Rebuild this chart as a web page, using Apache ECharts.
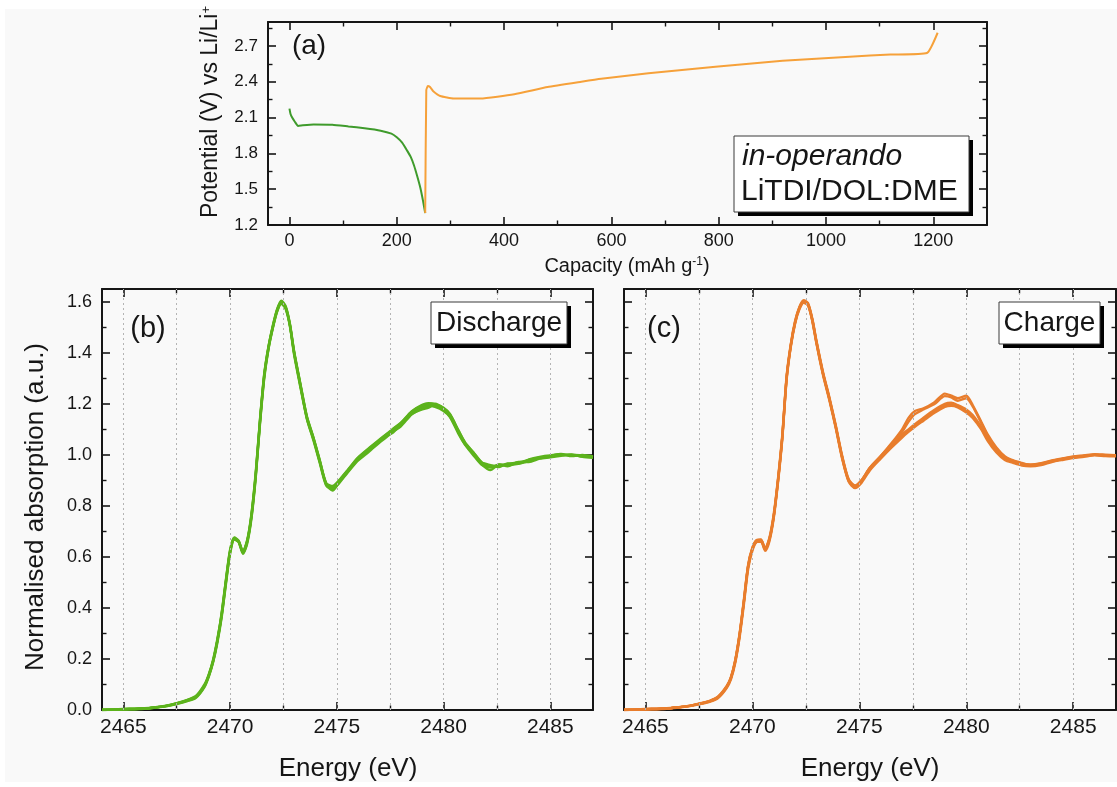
<!DOCTYPE html>
<html>
<head>
<meta charset="utf-8">
<script src="https://cdn.jsdelivr.net/npm/echarts@6/dist/echarts.min.js"></script>
<style>
  html, body { margin: 0; padding: 0; background: #ffffff; }
  #chart { width: 1117px; height: 787px; }
</style>
</head>
<body>
<div id="chart"></div>
<script>
// ---------- (a) galvanostatic discharge / charge profile ----------
const dischargeCapacity = [0, 2, 5, 10, 16, 25, 45, 80, 110, 140, 170, 190, 200, 210, 219, 226, 232, 238, 244, 249, 253];
const dischargeVoltage  = [2.175, 2.13, 2.10, 2.065, 2.03, 2.035, 2.042, 2.04, 2.025, 2.01, 1.99, 1.965, 1.935, 1.89, 1.825, 1.77, 1.70, 1.61, 1.51, 1.40, 1.30];
const chargeCapacity = [253, 255, 258, 262, 268, 281, 306, 356, 419, 481, 544, 581, 669, 794, 919, 1044, 1120, 1188, 1208];
const chargeVoltage  = [1.30, 2.33, 2.365, 2.355, 2.32, 2.28, 2.26, 2.26, 2.295, 2.355, 2.40, 2.425, 2.47, 2.525, 2.575, 2.61, 2.627, 2.64, 2.81];

const capacityLabels = [0, 200, 400, 600, 800, 1000, 1200];
const capacityMinor  = [100, 300, 500, 700, 900, 1100];
const voltageLabels  = [1.2, 1.5, 1.8, 2.1, 2.4, 2.7];
const voltageMinor   = [1.35, 1.65, 1.95, 2.25, 2.55, 2.85];

// ---------- (b), (c) S K-edge XANES scans ----------
const energy = [
  2464, 2465, 2466, 2466.5, 2467, 2467.5, 2468, 2468.4, 2468.8, 2469.0,
  2469.2, 2469.4, 2469.6, 2469.8, 2470.0, 2470.2, 2470.4, 2470.6, 2470.8, 2471.0,
  2471.2, 2471.4, 2471.6, 2471.8, 2472.0, 2472.2, 2472.4, 2472.6, 2472.8, 2473.0,
  2473.3, 2473.6, 2473.9, 2474.2, 2474.5, 2474.8,
  2475.1, 2475.5, 2476.0, 2476.5, 2477.0, 2477.3, 2477.6, 2478.0, 2478.5, 2479.0,
  2479.3, 2479.6, 2480.0, 2480.3, 2480.7, 2481.0, 2481.4, 2481.8, 2482.2, 2482.6,
  2483.0, 2483.5, 2484.0, 2484.5, 2485.0, 2485.5, 2486.0, 2486.5, 2487.0
];

const dischargeScan1 = [
  0.000, 0.003, 0.006, 0.010, 0.016, 0.026, 0.038, 0.052, 0.095, 0.135,
  0.190, 0.270, 0.370, 0.500, 0.620, 0.672, 0.660, 0.618, 0.660, 0.760,
  0.920, 1.130, 1.310, 1.420, 1.500, 1.565, 1.598, 1.578, 1.510, 1.400,
  1.270, 1.145, 1.065, 0.975, 0.885, 0.872,
  0.895, 0.935, 0.985, 1.020, 1.055, 1.075, 1.095, 1.120, 1.165, 1.190,
  1.197, 1.195, 1.180, 1.155, 1.090, 1.045, 1.005, 0.965, 0.955, 0.958,
  0.962, 0.968, 0.978, 0.988, 0.995, 1.000, 0.998, 0.996, 0.990
];
const dischargeScan2 = [
  0.000, 0.002, 0.005, 0.009, 0.014, 0.023, 0.035, 0.048, 0.090, 0.130,
  0.185, 0.262, 0.360, 0.490, 0.612, 0.668, 0.658, 0.612, 0.652, 0.750,
  0.910, 1.120, 1.300, 1.415, 1.495, 1.560, 1.592, 1.572, 1.505, 1.392,
  1.262, 1.140, 1.058, 0.968, 0.880, 0.865,
  0.888, 0.930, 0.978, 1.012, 1.048, 1.068, 1.090, 1.112, 1.158, 1.182,
  1.192, 1.188, 1.172, 1.148, 1.082, 1.040, 0.998, 0.960, 0.950, 0.962,
  0.955, 0.972, 0.972, 0.985, 0.990, 0.996, 1.002, 0.992, 0.988
];
const dischargeScan3 = [
  0.001, 0.004, 0.007, 0.011, 0.017, 0.027, 0.040, 0.055, 0.100, 0.140,
  0.196, 0.276, 0.378, 0.508, 0.628, 0.676, 0.664, 0.622, 0.666, 0.768,
  0.930, 1.138, 1.318, 1.426, 1.506, 1.570, 1.604, 1.584, 1.515, 1.406,
  1.276, 1.150, 1.070, 0.980, 0.890, 0.878,
  0.900, 0.940, 0.990, 1.026, 1.060, 1.080, 1.100, 1.126, 1.170, 1.196,
  1.202, 1.198, 1.185, 1.160, 1.096, 1.050, 1.010, 0.970, 0.960, 0.952,
  0.966, 0.965, 0.982, 0.992, 0.998, 1.004, 0.995, 1.000, 0.994
];
const dischargeScan4 = [
  0.000, 0.003, 0.006, 0.010, 0.015, 0.025, 0.037, 0.050, 0.093, 0.133,
  0.188, 0.268, 0.366, 0.496, 0.618, 0.670, 0.660, 0.616, 0.658, 0.756,
  0.916, 1.126, 1.306, 1.418, 1.498, 1.562, 1.596, 1.576, 1.508, 1.398,
  1.268, 1.142, 1.062, 0.972, 0.884, 0.860,
  0.892, 0.932, 0.982, 1.018, 1.052, 1.072, 1.085, 1.118, 1.160, 1.178,
  1.185, 1.198, 1.176, 1.150, 1.088, 1.042, 1.002, 0.962, 0.940, 0.962,
  0.960, 0.965, 0.975, 0.986, 0.993, 0.998, 1.000, 0.994, 0.992
];
const dischargeScan5 = [
  0.000, 0.003, 0.006, 0.010, 0.016, 0.026, 0.039, 0.053, 0.097, 0.137,
  0.192, 0.272, 0.374, 0.504, 0.624, 0.674, 0.662, 0.620, 0.662, 0.764,
  0.924, 1.134, 1.314, 1.424, 1.503, 1.568, 1.600, 1.580, 1.512, 1.403,
  1.273, 1.148, 1.068, 0.978, 0.888, 0.875,
  0.898, 0.938, 0.988, 1.024, 1.058, 1.078, 1.098, 1.124, 1.168, 1.194,
  1.200, 1.200, 1.183, 1.158, 1.094, 1.048, 1.008, 0.968, 0.958, 0.956,
  0.964, 0.970, 0.980, 0.990, 0.997, 1.002, 1.000, 0.998, 0.992
];

const chargeScan1 = [
  0.000, 0.003, 0.006, 0.010, 0.015, 0.024, 0.034, 0.050, 0.090, 0.125,
  0.190, 0.290, 0.420, 0.560, 0.630, 0.662, 0.665, 0.630, 0.670, 0.760,
  0.900, 1.070, 1.300, 1.430, 1.520, 1.575, 1.600, 1.590, 1.530, 1.440,
  1.320, 1.220, 1.110, 0.990, 0.900, 0.875,
  0.895, 0.945, 0.990, 1.035, 1.075, 1.095, 1.115, 1.140, 1.170, 1.195,
  1.198, 1.190, 1.172, 1.150, 1.105, 1.060, 1.015, 0.985, 0.972, 0.962,
  0.958, 0.963, 0.975, 0.983, 0.990, 0.995, 1.000, 0.998, 0.996
];
const chargeScan2 = [
  0.000, 0.002, 0.005, 0.009, 0.014, 0.022, 0.032, 0.047, 0.086, 0.120,
  0.184, 0.282, 0.410, 0.550, 0.624, 0.658, 0.660, 0.624, 0.662, 0.752,
  0.892, 1.062, 1.292, 1.424, 1.515, 1.570, 1.596, 1.586, 1.525, 1.434,
  1.314, 1.214, 1.104, 0.984, 0.895, 0.870,
  0.890, 0.940, 0.985, 1.028, 1.068, 1.090, 1.110, 1.134, 1.164, 1.188,
  1.192, 1.186, 1.166, 1.145, 1.100, 1.055, 1.010, 0.980, 0.968, 0.958,
  0.955, 0.960, 0.972, 0.980, 0.987, 0.992, 0.998, 0.995, 0.994
];
const chargeScan3 = [
  0.001, 0.004, 0.007, 0.011, 0.016, 0.025, 0.036, 0.053, 0.094, 0.130,
  0.196, 0.298, 0.430, 0.568, 0.636, 0.666, 0.668, 0.634, 0.676, 0.768,
  0.908, 1.078, 1.308, 1.436, 1.525, 1.580, 1.606, 1.595, 1.535, 1.446,
  1.326, 1.226, 1.116, 0.996, 0.905, 0.880,
  0.900, 0.950, 0.995, 1.040, 1.080, 1.100, 1.120, 1.146, 1.176, 1.200,
  1.204, 1.195, 1.178, 1.156, 1.110, 1.066, 1.020, 0.990, 0.976, 0.966,
  0.962, 0.967, 0.978, 0.986, 0.994, 0.998, 1.003, 1.001, 0.999
];
const chargeScan4 = [
  0.000, 0.003, 0.006, 0.010, 0.015, 0.024, 0.034, 0.050, 0.090, 0.126,
  0.192, 0.292, 0.422, 0.562, 0.632, 0.664, 0.666, 0.632, 0.672, 0.762,
  0.902, 1.072, 1.302, 1.432, 1.522, 1.578, 1.602, 1.592, 1.532, 1.442,
  1.322, 1.222, 1.112, 0.992, 0.902, 0.878,
  0.900, 0.950, 0.995, 1.045, 1.100, 1.145, 1.172, 1.182, 1.205, 1.240,
  1.232, 1.222, 1.232, 1.195, 1.130, 1.080, 1.030, 0.995, 0.978, 0.968,
  0.960, 0.966, 0.976, 0.985, 0.992, 0.997, 1.001, 0.999, 0.997
];
const chargeScan5 = [
  0.000, 0.003, 0.006, 0.010, 0.015, 0.024, 0.035, 0.051, 0.091, 0.127,
  0.193, 0.294, 0.424, 0.564, 0.633, 0.663, 0.664, 0.628, 0.668, 0.758,
  0.898, 1.068, 1.298, 1.428, 1.518, 1.574, 1.599, 1.588, 1.528, 1.438,
  1.318, 1.218, 1.108, 0.988, 0.898, 0.873,
  0.898, 0.948, 0.992, 1.040, 1.090, 1.130, 1.160, 1.178, 1.198, 1.230,
  1.225, 1.212, 1.222, 1.190, 1.125, 1.075, 1.025, 0.992, 0.975, 0.965,
  0.958, 0.964, 0.974, 0.983, 0.991, 0.996, 1.000, 0.998, 0.996
];

const energyLabels   = [2465, 2470, 2475, 2480, 2485];
const energyMinor    = [2467.5, 2472.5, 2477.5, 2482.5];
const energyGrid     = [2465, 2467.5, 2470, 2472.5, 2475, 2477.5, 2480, 2482.5, 2485];
const absorbLabels   = [0, 0.2, 0.4, 0.6, 0.8, 1.0, 1.2, 1.4, 1.6];
const absorbMinor    = [0.1, 0.3, 0.5, 0.7, 0.9, 1.1, 1.3, 1.5];

// ---------- styling ----------
const INK = '#161616';
const FONT = '"Liberation Sans", Arial, sans-serif';
const GREEN_A = '#3f9b2c';
const ORANGE_A = '#f6a13a';
const GREEN = '#5cb31c';
const ORANGE = '#e87d2d';

// Framed axis set: main axis (with labels) + minor-tick overlay on both sides.
function frameAxes(kind, grid, min, max, major, minor, label) {
  const sides = kind === 'x' ? ['bottom', 'top'] : ['left', 'right'];
  const out = [];
  sides.forEach((pos, i) => {
    out.push({
      type: 'value', gridIndex: grid, position: pos, min: min, max: max,
      axisLine: { show: true, onZero: false, lineStyle: { color: INK, width: 2 } },
      axisTick: { show: true, inside: true, length: 8, customValues: major,
                  lineStyle: { color: INK, width: 1.6 } },
      axisLabel: (i === 0 && label) ? {
        show: true, customValues: label.values, formatter: label.fmt,
        fontSize: label.size, margin: label.margin, color: INK, fontFamily: FONT
      } : { show: false },
      splitLine: { show: false }
    });
    out.push({
      type: 'value', gridIndex: grid, position: pos, min: min, max: max,
      axisLine: { show: false, onZero: false },
      axisTick: { show: true, inside: true, length: 4.5, customValues: minor,
                  lineStyle: { color: INK, width: 1.4 } },
      axisLabel: { show: false },
      splitLine: { show: false }
    });
  });
  return out;
}

const xAxes = [].concat(
  frameAxes('x', 0, -40, 1300, capacityLabels, capacityMinor,
            { values: capacityLabels, fmt: v => String(v), size: 18, margin: 7 }),
  frameAxes('x', 1, 2464, 2487, energyLabels, energyMinor,
            { values: energyLabels, fmt: v => String(v), size: 21, margin: 7 }),
  frameAxes('x', 2, 2464, 2487, energyLabels, energyMinor,
            { values: energyLabels, fmt: v => String(v), size: 21, margin: 7 })
);
const yAxes = [].concat(
  frameAxes('y', 0, 1.2, 2.9, voltageLabels, voltageMinor,
            { values: voltageLabels, fmt: v => v.toFixed(1), size: 17, margin: 10 }),
  frameAxes('y', 1, 0, 1.65, absorbLabels, absorbMinor,
            { values: absorbLabels, fmt: v => v.toFixed(1), size: 18, margin: 10 }),
  frameAxes('y', 2, 0, 1.65, absorbLabels, absorbMinor, null)
);

function pairs(xs, ys) { return xs.map((x, i) => [x, ys[i]]); }

function profileSeries(xs, ys, color) {
  return {
    type: 'line', xAxisIndex: 0, yAxisIndex: 0, data: pairs(xs, ys),
    showSymbol: false, smooth: 0.15, lineStyle: { color: color, width: 2 },
    itemStyle: { color: color }, silent: true, z: 3
  };
}
function scanSeries(panel, ys, color) {
  const idx = panel * 4;
  return {
    type: 'line', xAxisIndex: idx, yAxisIndex: idx, data: pairs(energy, ys),
    showSymbol: false, smooth: 0.25, lineStyle: { color: color, width: 2.4 },
    itemStyle: { color: color }, silent: true, z: 3
  };
}
function gridLineSeries(panel) {
  const idx = panel * 4;
  return {
    type: 'line', xAxisIndex: idx, yAxisIndex: idx, data: [], silent: true, z: 1,
    markLine: {
      silent: true, symbol: ['none', 'none'], label: { show: false },
      lineStyle: { color: '#b4b4b4', type: [2, 3], width: 1 },
      emphasis: { disabled: true },
      data: energyGrid.map(v => ({ xAxis: v }))
    }
  };
}

function boxWithShadow(x, y, w, h) {
  return [
    { type: 'rect', shape: { x: x + 4, y: y + 4, width: w, height: h }, style: { fill: '#000' }, z: 10 },
    { type: 'rect', shape: { x: x, y: y, width: w, height: h },
      style: { fill: '#ffffff', stroke: '#3a3a3a', lineWidth: 1 }, z: 11 }
  ];
}
function label(x, y, text, size, extra) {
  return Object.assign({
    type: 'text', x: x, y: y, z: 12,
    style: Object.assign({ text: text, fontSize: size, fontFamily: FONT, fill: INK,
                           align: 'center', verticalAlign: 'middle' }, (extra && extra.style) || {})
  }, extra && extra.el || {});
}

const graphics = [
  // page margins
  { type: 'rect', shape: { x: 0, y: 0, width: 1117, height: 9 }, style: { fill: '#fff' }, z: 0 },
  { type: 'rect', shape: { x: 0, y: 0, width: 5, height: 787 }, style: { fill: '#fff' }, z: 0 },
  { type: 'rect', shape: { x: 0, y: 782, width: 1117, height: 5 }, style: { fill: '#fff' }, z: 0 },

  // panel letters
  label(309, 46, '(a)', 28),
  label(148, 329, '(b)', 29),
  label(664, 329, '(c)', 29),

  // axis titles
  label(211, 112, 'Potential (V) vs Li/Li{s|+}', 23, {
    el: { rotation: Math.PI / 2 },
    style: { rich: { s: { fontSize: 13, verticalAlign: 'top', fontFamily: FONT, fill: INK } } }
  }),
  label(627, 266, 'Capacity (mAh g{s|-1})', 20, {
    style: { rich: { s: { fontSize: 12, verticalAlign: 'top', fontFamily: FONT, fill: INK } } }
  }),
  label(36, 507, 'Normalised absorption (a.u.)', 26, { el: { rotation: Math.PI / 2 } }),
  label(348, 769, 'Energy (eV)', 26),
  label(870, 769, 'Energy (eV)', 26)
].concat(
  boxWithShadow(734, 136, 235, 76),
  [
    label(742, 157, 'in-operando', 30, { style: { align: 'left', fontStyle: 'italic' } }),
    label(741, 192, 'LiTDI/DOL:DME', 30, { style: { align: 'left' } })
  ],
  boxWithShadow(431, 302, 136, 42),
  [label(499, 323, 'Discharge', 28)],
  boxWithShadow(999, 302, 101, 42),
  [label(1049.5, 323, 'Charge', 28)]
);

const chart = echarts.init(document.getElementById('chart'), null, { renderer: 'canvas' });
chart.setOption({
  animation: false,
  backgroundColor: '#f9f9f9',
  textStyle: { fontFamily: FONT },
  grid: [
    { left: 268, top: 22, width: 719, height: 203 },
    { left: 102, top: 289, width: 491, height: 421 },
    { left: 624, top: 289, width: 492, height: 421 }
  ],
  xAxis: xAxes,
  yAxis: yAxes,
  series: [
    profileSeries(dischargeCapacity, dischargeVoltage, GREEN_A),
    profileSeries(chargeCapacity, chargeVoltage, ORANGE_A),
    gridLineSeries(1),
    gridLineSeries(2),
    scanSeries(1, dischargeScan1, GREEN),
    scanSeries(1, dischargeScan2, GREEN),
    scanSeries(1, dischargeScan3, GREEN),
    scanSeries(1, dischargeScan4, GREEN),
    scanSeries(1, dischargeScan5, GREEN),
    scanSeries(2, chargeScan1, ORANGE),
    scanSeries(2, chargeScan2, ORANGE),
    scanSeries(2, chargeScan3, ORANGE),
    scanSeries(2, chargeScan4, ORANGE),
    scanSeries(2, chargeScan5, ORANGE)
  ],
  graphic: graphics
});
</script>
</body>
</html>
